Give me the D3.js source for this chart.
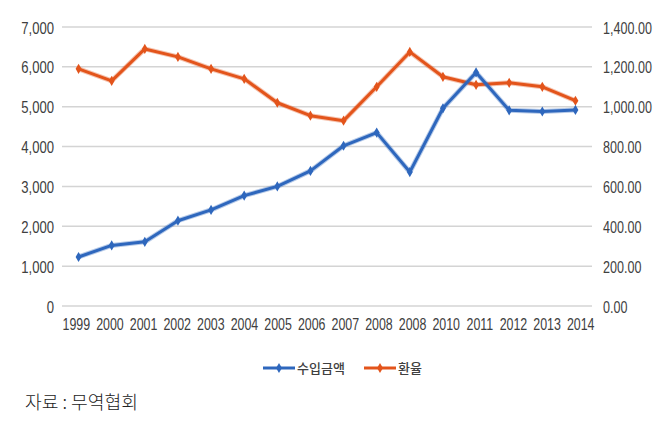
<!DOCTYPE html>
<html><head><meta charset="utf-8">
<script src="https://cdn.jsdelivr.net/npm/d3@7"></script>
<style>
body{margin:0;background:#fff;}
svg{display:block;}
.tk{font-family:"Liberation Sans",Arial,sans-serif;font-size:17px;fill:#404040;}
</style></head>
<body><svg id="c" width="662" height="440"></svg>
<script>
const years = ["1999","2000","2001","2002","2003","2004","2005","2006","2007","2008","2008","2010","2011","2012","2013","2014"];
const importAmount = [1230,1520,1610,2140,2410,2770,3000,3390,4020,4350,3360,4960,5860,4910,4880,4920];
const exchangeRate = [1190,1130,1290,1250,1190,1140,1020,955,930,1100,1275,1150,1110,1120,1100,1030];
const leftTicks = [0,1000,2000,3000,4000,5000,6000,7000];
const rightTicks = [0,200,400,600,800,1000,1200,1400];
const seriesNames = ["수입금액","환율"];
const colors = ["#2e67bd","#e3541b"];

const svg = d3.select("#c");
const x0 = 62, x1 = 592, yTop = 27, yBot = 306;
const idx = d3.range(years.length);
const x = d3.scaleBand().domain(idx).range([x0, x1]);
const xc = i => x(i) + x.bandwidth()/2;
const xl = d3.scaleLinear().domain([0, years.length-1]).range([76.3, 580.7]);
const yL = d3.scaleLinear().domain([0,7000]).range([yBot, yTop]);
const yR = d3.scaleLinear().domain([0,1400]).range([yBot, yTop]);

// gridlines
svg.append("g").selectAll("line").data(leftTicks).join("line")
  .attr("x1", x0).attr("x2", x1)
  .attr("y1", d => yL(d)).attr("y2", d => yL(d))
  .attr("stroke", "#d4d4d4").attr("stroke-width", 1.5);

// left axis labels
const fmtL = d3.format(",");
svg.append("g").selectAll("text").data(leftTicks).join("text")
  .attr("class","tk")
  .attr("transform", d => `translate(54,${yL(d)+6.5}) scale(0.77,1)`)
  .attr("text-anchor","end")
  .text(d => fmtL(d));

// right axis labels
const fmtR = d3.format(",.2f");
svg.append("g").selectAll("text").data(rightTicks).join("text")
  .attr("class","tk")
  .attr("transform", d => `translate(603,${yR(d)+6.5}) scale(0.74,1)`)
  .attr("text-anchor","start")
  .text(d => fmtR(d));

// x labels
svg.append("g").selectAll("text").data(idx).join("text")
  .attr("class","tk")
  .attr("transform", i => `translate(${xl(i)},329.5) scale(0.73,1)`)
  .attr("text-anchor","middle")
  .text(i => years[i]);

function drawSeries(vals, yScale, color){
  const line = d3.line().x((d,i)=>xc(i)).y(d=>yScale(d));
  const g = svg.append("g");
  g.append("path").datum(vals).attr("d", line)
    .attr("fill","none").attr("stroke", color).attr("stroke-opacity",0.35)
    .attr("stroke-width",5).attr("stroke-linejoin","round");
  g.append("path").datum(vals).attr("d", line)
    .attr("fill","none").attr("stroke", color)
    .attr("stroke-width",3).attr("stroke-linejoin","round");
  g.selectAll("path.m").data(vals).join("path").attr("class","m")
    .attr("d", d3.symbol().type(d3.symbolDiamond).size(30))
    .attr("transform",(d,i)=>`translate(${xc(i)},${yScale(d)})`)
    .attr("fill", color);
}
drawSeries(exchangeRate, yR, colors[1]);
drawSeries(importAmount, yL, colors[0]);

// legend
const legend = [{x:263, name:seriesNames[0], c:colors[0]},{x:364, name:seriesNames[1], c:colors[1]}];
const lg = svg.append("g").selectAll("g").data(legend).join("g")
  .attr("transform", d => `translate(${d.x},368)`);
lg.append("line").attr("x1",0).attr("x2",32).attr("y1",0).attr("y2",0)
  .attr("stroke", d=>d.c).attr("stroke-width",3);
lg.append("path").attr("d", d3.symbol().type(d3.symbolDiamond).size(30))
  .attr("transform","translate(16,0)").attr("fill", d=>d.c);
lg.append("text").attr("x",34).attr("y",5)
  .attr("font-family","'Noto Sans CJK KR',sans-serif").attr("font-size",13)
  .attr("font-weight",500).attr("fill","#404040")
  .text(d=>d.name);

// source note
svg.append("text").attr("x",25).attr("y",409)
  .attr("font-family","'Noto Sans CJK KR',sans-serif").attr("font-size",18)
  .attr("font-weight",300).attr("fill","#222")
  .attr("textLength",113).attr("lengthAdjust","spacingAndGlyphs")
  .text("자료 : 무역협회");
</script></body></html>
